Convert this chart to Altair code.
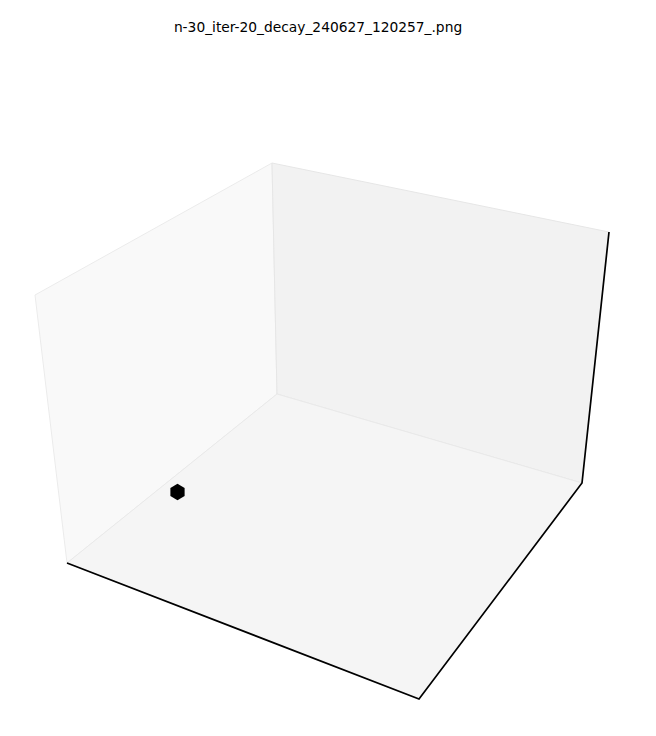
import altair as alt

# Title
title_text = "n-30_iter-20_decay_240627_120257_.png"

# Projected box corners (page pixels)
corner_names = ["A", "B", "C", "D", "E", "F", "G"]
corner_x = [35, 272, 277, 67, 609, 582, 419]
corner_y = [295, 163, 394, 563, 232, 483, 699]

# Panes (corner sequences)
pane_names = ["left", "back", "floor"]
pane_corners = [["A", "B", "C", "D"], ["B", "E", "F", "C"], ["D", "C", "F", "G"]]
pane_fills = ["#f9f9f9", "#f2f2f2", "#f5f5f5"]
pane_edges = ["#ebebeb", "#e6e6e6", "#e9e9e9"]

# Visible axis lines
axis_path = ["D", "G", "F", "E"]

# Data point (screen position)
point_x = [177.5]
point_y = [492]

OFF = 8
pos = {n: [x - OFF, y - OFF] for n, x, y in zip(corner_names, corner_x, corner_y)}

proj = alt.Projection(type="identity", scale=1, translate=[0, 0])

layers = []
for name, cs, fc, ec in zip(pane_names, pane_corners, pane_fills, pane_edges):
    ring = [pos[c] for c in cs] + [pos[cs[0]]]
    feat = {"type": "Feature", "properties": {"pane": name},
            "geometry": {"type": "Polygon", "coordinates": [ring]}}
    layers.append(
        alt.Chart(alt.Data(values=[feat])).mark_geoshape(
            fill=fc, stroke=ec, strokeWidth=1
        ).project(**proj.to_dict())
    )

axis_feat = {"type": "Feature", "properties": {"name": "axes"},
             "geometry": {"type": "LineString", "coordinates": [pos[c] for c in axis_path]}}
layers.append(
    alt.Chart(alt.Data(values=[axis_feat])).mark_geoshape(
        filled=False, fill="transparent", stroke="#000000", strokeWidth=1.7, strokeJoin="miter"
    ).project(**proj.to_dict())
)

hexagon = "M0,-1L0.866,-0.5L0.866,0.5L0,1L-0.866,0.5L-0.866,-0.5Z"
pts = alt.Data(values=[{"x": x - OFF, "y": y - OFF} for x, y in zip(point_x, point_y)])
layers.append(
    alt.Chart(pts).mark_point(shape=hexagon, filled=True, color="#000000", size=270, opacity=1).encode(
        longitude="x:Q", latitude="y:Q"
    ).project(**proj.to_dict())
)

ttl = alt.Data(values=[{"x": 318 - OFF, "y": 31.5 - OFF, "t": title_text}])
layers.append(
    alt.Chart(ttl).mark_text(font="DejaVu Sans", fontSize=13.8, color="#000000",
                             align="center", baseline="alphabetic").encode(
        longitude="x:Q", latitude="y:Q", text="t:N"
    ).project(**proj.to_dict())
)

chart = alt.layer(*layers).properties(
    width=640, height=720, padding=0, autosize=alt.AutoSizeParams(type="none"),
    background="#ffffff"
).configure_view(strokeWidth=0)

chart.save("out.html", embed_options={"renderer": "svg", "actions": False})
